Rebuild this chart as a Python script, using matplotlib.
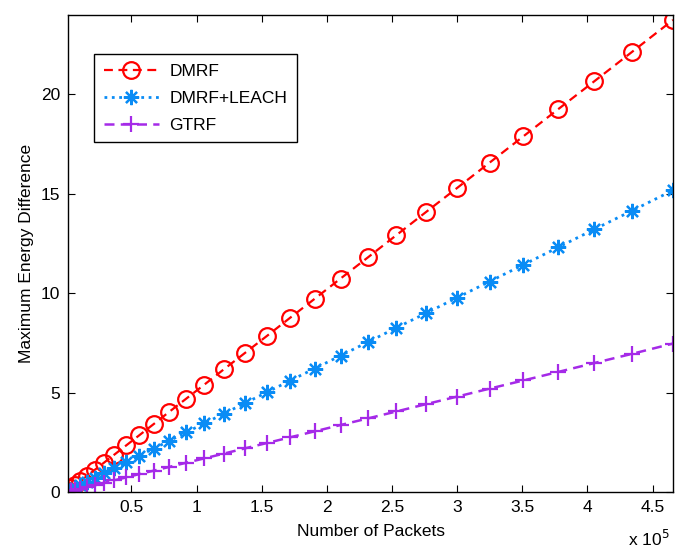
import numpy as np
import matplotlib
matplotlib.use('Agg')
import matplotlib.pyplot as plt
from matplotlib.ticker import FuncFormatter

plt.rcParams['font.family'] = ['Liberation Sans', 'DejaVu Sans']

# number of packets (same x for all three curves)
packets = [1330, 3440, 6550, 10640, 15720, 21790, 28850, 36890, 45930, 55950,
           66960, 78960, 91950, 105930, 120890, 136840, 153780, 171710, 190630, 210540,
           231440, 253320, 276190, 300050, 324900, 350740, 377560, 405380, 434180, 465700]

dmrf = [0.07, 0.18, 0.33, 0.54, 0.80, 1.11, 1.47, 1.88, 2.34, 2.85,
        3.41, 4.03, 4.69, 5.40, 6.17, 6.98, 7.84, 8.76, 9.72, 10.74,
        11.80, 12.92, 14.09, 15.30, 16.57, 17.89, 19.26, 20.67, 22.14, 23.75]

dmrf_leach = [0.04, 0.11, 0.21, 0.35, 0.51, 0.71, 0.94, 1.20, 1.50, 1.82,
              2.18, 2.57, 3.00, 3.45, 3.94, 4.46, 5.01, 5.60, 6.21, 6.86,
              7.54, 8.26, 9.00, 9.78, 10.59, 11.43, 12.31, 13.22, 14.15, 15.18]

gtrf = [0.02, 0.06, 0.10, 0.17, 0.25, 0.35, 0.46, 0.59, 0.73, 0.90,
        1.07, 1.26, 1.47, 1.69, 1.93, 2.19, 2.46, 2.75, 3.05, 3.37,
        3.70, 4.05, 4.42, 4.80, 5.20, 5.61, 6.04, 6.49, 6.95, 7.47]

xticks = [0.5e5, 1e5, 1.5e5, 2e5, 2.5e5, 3e5, 3.5e5, 4e5, 4.5e5]
yticks = [0, 5, 10, 15, 20]

fs = 12.5
fig = plt.figure(figsize=(6.76, 5.51), dpi=100)
ax = fig.add_axes([0.1006, 0.1071, 0.8950, 0.8657])

ax.plot(packets, dmrf, color='#FF0000', lw=1.6, ls=(0, (4, 2.5)), marker='o', ms=12,
        mfc='none', mew=1.6, label='DMRF')
ax.plot(packets, dmrf_leach, ':', color='#0A8CF5', lw=2.0, marker=(8, 2, 0), ms=11,
        mew=1.6, label='DMRF+LEACH')
ax.plot(packets, gtrf, color='#A52AE8', lw=1.8, ls=(0, (4, 2.5)), marker='+', ms=11,
        mew=1.6, label='GTRF')

ax.set_xlim(packets[0], packets[-1])
ax.set_ylim(0, 24)
ax.set_xticks(xticks)
ax.set_yticks(yticks)
ax.xaxis.set_major_formatter(FuncFormatter(lambda v, p: '%g' % (v / 1e5)))
ax.tick_params(direction='in', top=True, right=True, length=5, width=0.8,
               labelsize=fs, pad=5.5)
for s in ax.spines.values():
    s.set_linewidth(1.0)

ax.set_xlabel('Number of Packets', fontsize=fs, labelpad=7)
ax.set_ylabel('Maximum Energy Difference', fontsize=fs, labelpad=5)
fig.text(0.99, 0.004, r'x 10$^{5}$', ha='right', va='bottom', fontsize=fs)

leg = ax.legend(loc='upper left', bbox_to_anchor=(0.043, 0.918), borderaxespad=0,
                fancybox=False, edgecolor='black', fontsize=fs, handlelength=3.2,
                handletextpad=0.6, labelspacing=0.68, borderpad=0.55, framealpha=1)
leg.get_frame().set_linewidth(1.0)

fig.savefig('out.png', dpi=100)
